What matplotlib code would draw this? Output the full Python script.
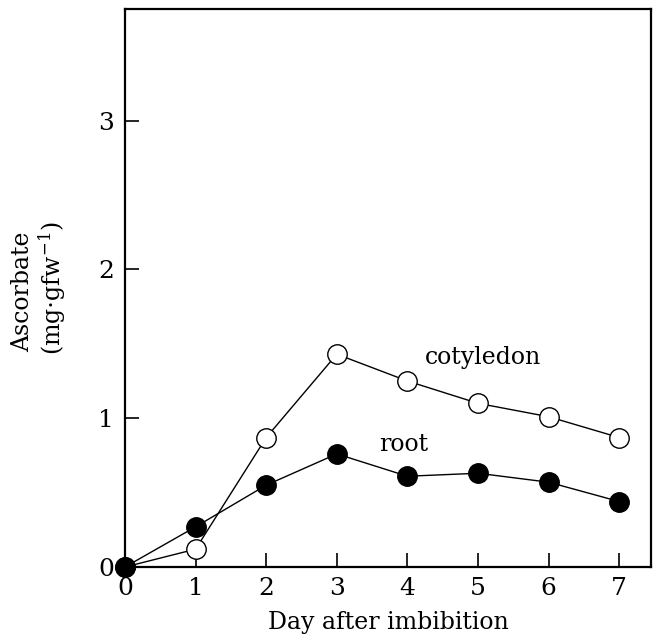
import matplotlib
matplotlib.use("Agg")
import matplotlib.pyplot as plt

days = [0, 1, 2, 3, 4, 5, 6, 7]
cotyledon = [0.0, 0.12, 0.87, 1.43, 1.25, 1.10, 1.01, 0.87]
root = [0.0, 0.27, 0.55, 0.76, 0.61, 0.63, 0.57, 0.44]
x_ticks = [0, 1, 2, 3, 4, 5, 6, 7]
y_ticks = [0, 1, 2, 3]

plt.rcParams["font.family"] = ["DejaVu Serif"]
plt.rcParams["mathtext.fontset"] = "dejavuserif"

fig = plt.figure(figsize=(6.56, 6.43), dpi=100)
ax = fig.add_axes([125 / 656, 1 - 567 / 643, (651 - 125) / 656, (567 - 9) / 643])

ax.plot(days, cotyledon, "-", color="black", lw=1.0, marker="o", ms=14,
        mfc="white", mec="black", mew=1.0, clip_on=False, zorder=3)
ax.plot(days, root, "-", color="black", lw=1.0, marker="o", ms=14,
        mfc="black", mec="black", clip_on=False, zorder=4)

ax.text(5.07, 1.41, "cotyledon", fontsize=17, ha="center", va="center")
ax.text(3.94, 0.82, "root", fontsize=17, ha="center", va="center")

ax.set_xlim(0, 7.45)
ax.set_ylim(0, 3.75)
ax.set_xticks(x_ticks)
ax.set_yticks(y_ticks)
ax.tick_params(direction="in", length=10, width=1.2, labelsize=18)
ax.tick_params(axis="x", pad=7)
ax.tick_params(axis="y", pad=8)
for s in ax.spines.values():
    s.set_linewidth(1.6)

ax.set_xlabel("Day after imbibition", fontsize=17, labelpad=8)
fig.text(23 / 656, 1 - 292 / 643, "Ascorbate", rotation=90, fontsize=17,
         ha="center", va="center")
fig.text(52 / 656, 1 - 288 / 643, r"(mg$\cdot$gfw$^{\mathregular{-1}}$)", rotation=90,
         fontsize=17, ha="center", va="center")

fig.savefig("out.png", dpi=100)
